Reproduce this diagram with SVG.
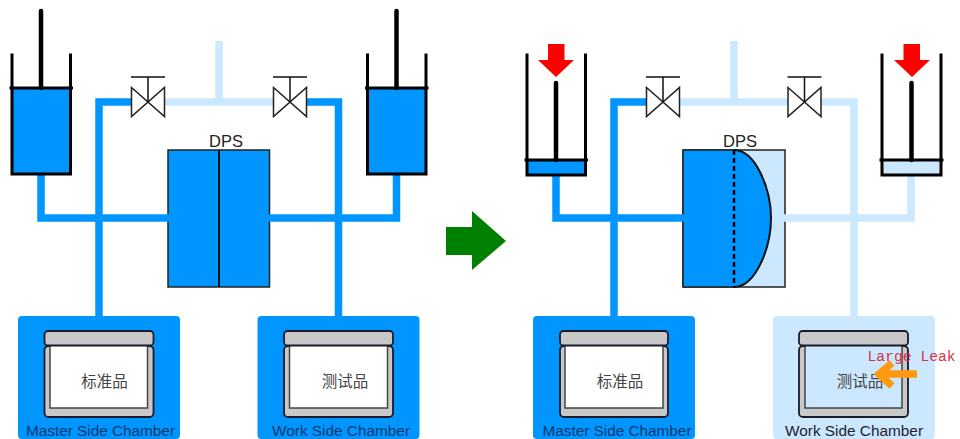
<svg xmlns="http://www.w3.org/2000/svg" width="960" height="439" viewBox="0 0 960 439">
<defs>
<style>
.b{fill:#0095ff}.l{fill:#cce8ff}
.pb{fill:none;stroke:#0095ff;stroke-width:7.5}
.pl{fill:none;stroke:#cce8ff;stroke-width:7.5}
.o{fill:none;stroke:#000;stroke-width:3;stroke-linecap:square}
.rod{fill:none;stroke:#000;stroke-width:4.5;stroke-linecap:round}
.v{fill:#fff;stroke:#222;stroke-width:1.5}
.vs{fill:none;stroke:#111;stroke-width:1.5}
.dps{stroke:#222;stroke-width:1.5}
.lid{fill:#c8c8c8;stroke:#1a1a2a;stroke-width:1.8}
.in{stroke:#444;stroke-width:1.5}
.t{font-family:"Liberation Sans",Arial,sans-serif;font-size:15.5px;text-anchor:middle}
.d{font-family:"Liberation Sans",Arial,sans-serif;font-size:16.5px;text-anchor:middle;fill:#222}
.cj{font-family:"Noto Sans CJK SC",sans-serif;font-size:15.5px;fill:#444;text-anchor:middle}
</style>
<g id="valve-shape">
<path class="v" d="M-16.500 -14.500L16.500 14.500V-14.500L-16.500 14.500Z"/>
<path class="vs" d="M0 0V-25M-17 -25H17"/>
</g>
</defs>
<rect width="960" height="439" fill="#fff"/>

<g id="chamber-master-1">
<rect class="b" x="18" y="316" width="162" height="123" rx="4"/>
<rect class="lid" x="44.500" y="346" width="109" height="71" rx="4"/>
<rect class="in" x="50" y="345" width="97.500" height="63" fill="#fff"/>
<rect class="lid" x="44.500" y="331" width="109" height="14.500" rx="3.500"/>
<text class="cj" x="104.500" y="387">标准品</text>
<text class="t" x="100.500" y="436" fill="#003a70" textLength="149" lengthAdjust="spacingAndGlyphs">Master Side Chamber</text>
</g>
<g id="chamber-work-1">
<rect class="b" x="257.500" y="316" width="162" height="123" rx="4"/>
<rect class="lid" x="284" y="346" width="109" height="71" rx="4"/>
<rect class="in" x="289.500" y="345" width="98" height="63" fill="#fff"/>
<rect class="lid" x="284" y="331" width="109" height="14.500" rx="3.500"/>
<text class="cj" x="345" y="387">测试品</text>
<text class="t" x="341" y="436" fill="#003a70" textLength="138" lengthAdjust="spacingAndGlyphs">Work Side Chamber</text>
</g>
<g id="chamber-master-2">
<rect class="b" x="533" y="316" width="162" height="123" rx="4"/>
<rect class="lid" x="560" y="346" width="108" height="71" rx="4"/>
<rect class="in" x="565" y="345" width="98" height="63" fill="#fff"/>
<rect class="lid" x="560" y="331" width="108" height="14.500" rx="3.500"/>
<text class="cj" x="620" y="387">标准品</text>
<text class="t" x="617" y="436" fill="#003a70" textLength="149" lengthAdjust="spacingAndGlyphs">Master Side Chamber</text>
</g>
<g id="chamber-work-2">
<rect class="l" x="773" y="316" width="162" height="123" rx="4"/>
<rect class="lid" x="799" y="346" width="109" height="71" rx="4"/>
<rect class="in" x="805" y="345" width="97" height="63" fill="#cce8ff"/>
<rect class="lid" x="799" y="331" width="109" height="14.500" rx="3.500"/>
<text class="cj" x="860" y="387">测试品</text>
<text class="t" x="854" y="436" fill="#223" textLength="138" lengthAdjust="spacingAndGlyphs">Work Side Chamber</text>
</g>

<g id="dps-1">
<rect class="b dps" x="168" y="150" width="101.500" height="137"/>
<path d="M219 150V287" stroke="#111" stroke-width="2" fill="none"/>
<text class="d" x="226" y="147">DPS</text>
</g>
<g id="dps-2">
<rect class="l dps" x="683" y="150" width="102" height="137"/>
<path class="b" d="M683 150H734C756 150 771 190 771 218C771 247 756 287 734 287H683Z"/>
<path d="M683 150H734M683 287H734M683 150V287" stroke="#222" stroke-width="1.500" fill="none"/>
<path d="M734 150C756 150 771 190 771 218C771 247 756 287 734 287" stroke="#111" stroke-width="2" fill="none"/>
<path d="M734 150V287" stroke="#000" stroke-width="2.500" stroke-dasharray="5 3" fill="none"/>
<text class="d" x="740" y="147">DPS</text>
</g>

<g id="connectors">
<path class="pb" d="M99 316V102H135"/>
<path class="pb" d="M41 174V218H170"/>
<path class="pb" d="M338.500 316V102H302"/>
<path class="pb" d="M396.500 174V218H268"/>
<path class="pl" d="M165 102H273M219 41V102"/>
<path class="pb" d="M614 316V102H650"/>
<path class="pb" d="M556 174V218H685"/>
<path class="pl" d="M680 102H788M734 41V102"/>
<path class="pl" d="M854 316V102H818"/>
<path class="pl" d="M911 174V218H783"/>
</g>

<g id="valve-1"><use href="#valve-shape" x="148" y="102"/></g>
<g id="valve-2"><use href="#valve-shape" x="290" y="102"/></g>
<g id="valve-3"><use href="#valve-shape" x="663" y="102"/></g>
<g id="valve-4"><use href="#valve-shape" x="804.500" y="102"/></g>

<g id="cylinder-1">
<rect class="b" x="12" y="88" width="58.500" height="86"/>
<path class="o" d="M12 55V174H70.500V55"/>
<path class="o" d="M11 88H71.500"/>
<path class="rod" d="M41 11V88"/>
</g>
<g id="cylinder-2">
<rect class="b" x="367.500" y="88" width="58.500" height="86"/>
<path class="o" d="M367.500 55V174H426V55"/>
<path class="o" d="M366.500 88H427"/>
<path class="rod" d="M396.500 11V88"/>
</g>
<g id="cylinder-3">
<rect class="b" x="527" y="160" width="58.500" height="15"/>
<path class="o" d="M527 55V175H585.500V55"/>
<path class="o" d="M526 160H586.500"/>
<path class="rod" d="M556 83V160"/>
<path fill="#ff0000" d="M548 44H564.500V60H574L556 77L538 60H548Z"/>
</g>
<g id="cylinder-4">
<rect class="l" x="882" y="160" width="59" height="15"/>
<path class="o" d="M882 55V175H941V55"/>
<path class="o" d="M881 160H942"/>
<path class="rod" d="M911.500 83V160"/>
<path fill="#ff0000" d="M903.500 44H920V60H930L912 77L894 60H903.500Z"/>
</g>

<g id="process-arrow">
<path fill="#008000" d="M446 227H472V211L506 241L472 270V255H446Z"/>
</g>
<g id="leak">
<path d="M917 374H884M892 363L879 374L892 386" fill="none" stroke="#ff9a10" stroke-width="7.500"/>
<text x="867.500" y="361" font-family="'Liberation Mono',monospace" font-size="14.700px" fill="#d8304a">Large Leak</text>
</g>
</svg>
